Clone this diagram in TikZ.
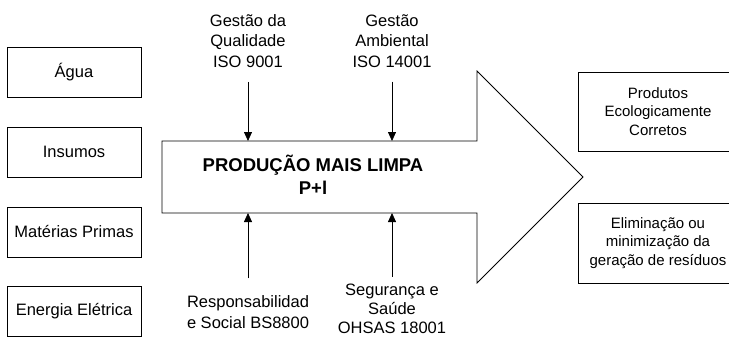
\documentclass[tikz,border=0pt]{standalone}
\usepackage{fontspec}
\setmainfont{Liberation Sans}
\usetikzlibrary{arrows.meta,positioning,calc}

\tikzset{
  inbox/.style={draw, line width=0.8pt, minimum width=134pt, minimum height=50pt,
    font=\fontsize{16.5}{20.5}\selectfont},
  outbox/.style={draw, line width=0.8pt, minimum width=160pt, align=center,
    font=\fontsize{15}{18.5}\selectfont},
  lbl/.style={inner sep=0pt, align=center, font=\fontsize{16.5}{20.5}\selectfont},
  flow/.style={line width=0.8pt, -{Triangle[length=9pt,width=8pt]}}
}

\begin{document}
\begin{tikzpicture}[x=1pt,y=-1pt]
  \useasboundingbox (0,0) rectangle (729,337);
  \clip (0,0) rectangle (729,337);

  % inputs
  \node [inbox] (agua)    at (74,72)  {Água};
  \node [inbox] (insumos) at (74,152) {Insumos};
  \node [inbox] (mat)     at (74,232) {Matérias Primas};
  \node [inbox] (energia) at (74,311) {Energia Elétrica};

  % big arrow
  \coordinate (bodyTL) at (162,141);
  \coordinate (bodyBL) at (162,213);
  \coordinate (tip)    at (583,177);
  \draw [line width=0.8pt] (bodyTL) -- (477,141) -- (477,71) -- (tip)
        -- (477,283) -- (477,213) -- (bodyBL) -- cycle;
  \node [align=center, font=\bfseries\fontsize{18.5}{23}\selectfont] (pml)
        at (313,175) {PRODUÇÃO MAIS LIMPA\\P+l};

  % outputs
  \node [outbox, minimum height=79pt] (prod) at (658,111.5)
        {Produtos\\Ecologicamente\\Corretos};
  \node [outbox, minimum height=80pt] (elim) at (658,243)
        {Eliminação ou\\minimização da\\geração de resíduos};

  % norms
  \node [lbl] (qual) at (248,41) {Gestão da\\Qualidade\\ISO 9001};
  \node [lbl] (amb)  at (392,41) {Gestão\\Ambiental\\ISO 14001};
  \node [lbl] (resp) at (248,312) {Responsabilidad\\e Social BS8800};
  \node [lbl, font=\fontsize{16.5}{19}\selectfont] (seg) at (392,309)
        {Segurança e\\Saúde\\OHSAS 18001};

  \draw [flow, shorten <=14pt] (qual.south) -- (qual.south |- bodyTL);
  \draw [flow, shorten <=14pt] (amb.south)  -- (amb.south |- bodyTL);
  \draw [flow, shorten <=17pt] (resp.north) -- (resp.north |- bodyBL);
  \draw [flow, shorten <=7pt]  (seg.north)  -- (seg.north |- bodyBL);
\end{tikzpicture}
\end{document}
